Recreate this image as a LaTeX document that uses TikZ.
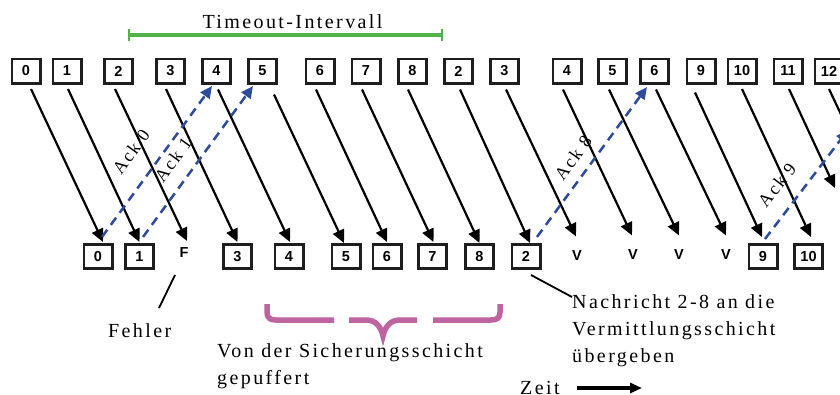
\documentclass[tikz,border=0pt]{standalone}
\usepackage{fontspec}
\setmainfont{Liberation Serif}
\setsansfont{Liberation Sans}
\newfontfamily\spc[LetterSpace=12]{Liberation Serif}
\usetikzlibrary{arrows.meta}
\definecolor{boxline}{RGB}{30,30,30}
\definecolor{ackblue}{RGB}{45,75,155}
\definecolor{tgreen}{RGB}{80,178,72}
\definecolor{bracepink}{RGB}{190,100,160}
\newcommand\msgarrow[6]{\draw[msg] ([xshift=#2pt,yshift=#3pt]#1.south) -- ([xshift=#5pt,yshift=#6pt]#4.north);}
\begin{document}
\begin{tikzpicture}[x=1pt,y=-1pt,
  pbox/.style={draw=boxline, line width=2.7pt, minimum width=28.3pt, minimum height=24.3pt, inner sep=0pt, font=\sffamily\bfseries\fontsize{14.5}{14.5}\selectfont},
  plainbox/.style={pbox, draw=none},
  msg/.style={line width=2.2pt, -{Triangle[length=13pt,width=12pt]}},
  ack/.style={draw=ackblue, line width=2.5pt, dash pattern=on 9pt off 6pt, -{Triangle[length=12pt,width=11pt,fill=ackblue]}},
  lbl/.style={inner sep=0pt, font=\spc\fontsize{20}{27}\selectfont},
  acklbl/.style={inner sep=0pt, font=\spc\fontsize{18}{18}\selectfont},
  thinline/.style={line width=1.8pt},
  bracestroke/.style={draw=bracepink, line width=5.5pt, line join=miter},
]
\useasboundingbox (0,0) rectangle (840,394);
\clip (0,0) rectangle (840,394);
% timeout interval
\coordinate (tl) at (128,35);
\coordinate (tr) at (443,35);
\draw[tgreen, line width=3.8pt, {Bar[width=12pt,line width=2.4pt]}-{Bar[width=12pt,line width=2.4pt]}] (tl) -- (tr);
\node[lbl, anchor=base] (timeout) at (292.5,28) {Timeout-Intervall};
% top boxes (sender)
\node[pbox] (t0) at (26,71) {0};
\node[pbox] (t1) at (67,71) {1};
\node[pbox] (t2) at (118.5,71) {2};
\node[pbox] (t3) at (170.5,71) {3};
\node[pbox] (t4) at (216.5,71) {4};
\node[pbox] (t5) at (262.5,71) {5};
\node[pbox] (t6) at (320,71) {6};
\node[pbox] (t7) at (366,71) {7};
\node[pbox] (t8) at (412.5,71) {8};
\node[pbox] (t2b) at (458.5,71) {2};
\node[pbox] (t3b) at (504.5,71) {3};
\node[pbox] (t4b) at (567,71) {4};
\node[pbox] (t5b) at (612.5,71) {5};
\node[pbox] (t6b) at (654.5,71) {6};
\node[pbox] (t9) at (701,71) {9};
\node[pbox] (t10) at (742,71) {10};
\node[pbox] (t11) at (788,71) {11};
\node[pbox] (t12) at (829,71) {12};
% bottom boxes (receiver)
\node[pbox] (b0) at (98,256.5) {0};
\node[pbox] (b1) at (139.5,256.5) {1};
\node[plainbox] (bF) at (184,252.5) {F};
\node[pbox] (b3) at (237.5,256.5) {3};
\node[pbox] (b4) at (289,256.5) {4};
\node[pbox] (b5) at (346,256.5) {5};
\node[pbox] (b6) at (387,256.5) {6};
\node[pbox] (b7) at (432.5,256.5) {7};
\node[pbox] (b8) at (479.5,256.5) {8};
\node[pbox] (b2) at (526,256.5) {2};
\node[plainbox] (v1) at (577,256) {V};
\node[plainbox] (v2) at (633,255) {V};
\node[plainbox] (v3) at (679,255) {V};
\node[plainbox] (v4) at (726,255) {V};
\node[pbox] (b9) at (763,256.5) {9};
\node[pbox] (b10) at (808.5,256.5) {10};
% data frames
\msgarrow{t0}{5}{-4.5}{b0}{5}{1}
\msgarrow{t1}{1}{-4.5}{b1}{0}{1}
\msgarrow{t2}{-3.5}{-4.5}{bF}{3}{-2}
\msgarrow{t3}{-4.5}{-4.5}{b3}{0}{1}
\msgarrow{t4}{1.5}{-5}{b4}{1}{1}
\msgarrow{t5}{11.5}{-10}{b5}{-2}{0}
\msgarrow{t6}{-4}{-5}{b6}{0}{1}
\msgarrow{t7}{-4}{-5}{b7}{1}{1}
\msgarrow{t8}{-4.5}{-5}{b8}{0}{0}
\msgarrow{t2b}{1.5}{-5}{b2}{4}{0}
\msgarrow{t3b}{1.5}{-5}{v1}{-1}{6}
\msgarrow{t4b}{-4}{-5}{v2}{-1}{6}
\msgarrow{t5b}{-3.5}{-5}{v3}{0}{6}
\msgarrow{t6b}{1.5}{-5}{v4}{0}{6}
\msgarrow{t9}{-6}{-8}{b9}{-1}{6}
\msgarrow{t10}{0}{-4.5}{b10}{2.5}{6}
\coordinate (m11) at (835,188);
\coordinate (m12) at (880,197);
\draw[msg] ([xshift=1pt,yshift=-4.5pt]t11.south) -- (m11);
\draw[line width=2.2pt] ([yshift=-4.5pt]t12.south) -- (m12);
% acknowledgements
\draw[ack] ([xshift=4pt,yshift=6pt]b0.north) -- ([xshift=-4.5pt,yshift=-1.5pt]t4.south);
\draw[ack] ([xshift=3.5pt,yshift=6pt]b1.north) -- ([xshift=-9.5pt,yshift=-1.5pt]t5.south);
\draw[ack] ([xshift=11pt,yshift=6pt]b2.north) -- ([xshift=-7.5pt,yshift=-2.5pt]t6b.south);
\coordinate (a9) at (848,130);
\draw[ack] ([xshift=2pt,yshift=4pt]b9.north) -- (a9);
\node[acklbl, rotate=54] (ack0) at (131,152) {Ack 0};
\node[acklbl, rotate=54] (ack1) at (173,160) {Ack 1};
\node[acklbl, rotate=54] (ack8) at (573,158) {Ack 8};
\node[acklbl, rotate=52] (ack9) at (777,185) {Ack 9};
% annotations
\node[lbl, anchor=base west] (fehler) at (108,337) {Fehler};
\coordinate (fe) at (159,308);
\draw[thinline] ([xshift=-9pt,yshift=-9pt]bF.south) -- (fe);
\node[lbl, anchor=base west, align=left] (puffer) at (217,384) {Von der Sicherungsschicht\\gepuffert};
\node[lbl, anchor=base west, align=left] (nachricht) at (572,362) {Nachricht 2-8 an die\\Vermittlungsschicht\\übergeben};
\coordinate (ne) at (572,297);
\draw[thinline] ([xshift=5pt,yshift=-5pt]b2.south) -- (ne);
\node[lbl, anchor=base west] (zeit) at (520,394) {Zeit};
\coordinate (z1) at (577,388);
\coordinate (z2) at (642,388);
\draw[line width=3.2pt, -{Triangle[length=12pt,width=10pt]}] (z1) -- (z2);
% brace
\draw[bracestroke] (267,304) -- (267,312) .. controls (267,318) and (270,320) .. (276,320) -- (334,320);
\draw[bracestroke] (349,320) -- (366,320) .. controls (376,320) and (381,327) .. (383,336) .. controls (385,327) and (390,320) .. (400,320) -- (417,320);
\draw[bracestroke] (433,320) -- (491,320) .. controls (497,320) and (500,318) .. (500,312) -- (500,304);
\end{tikzpicture}
\end{document}
